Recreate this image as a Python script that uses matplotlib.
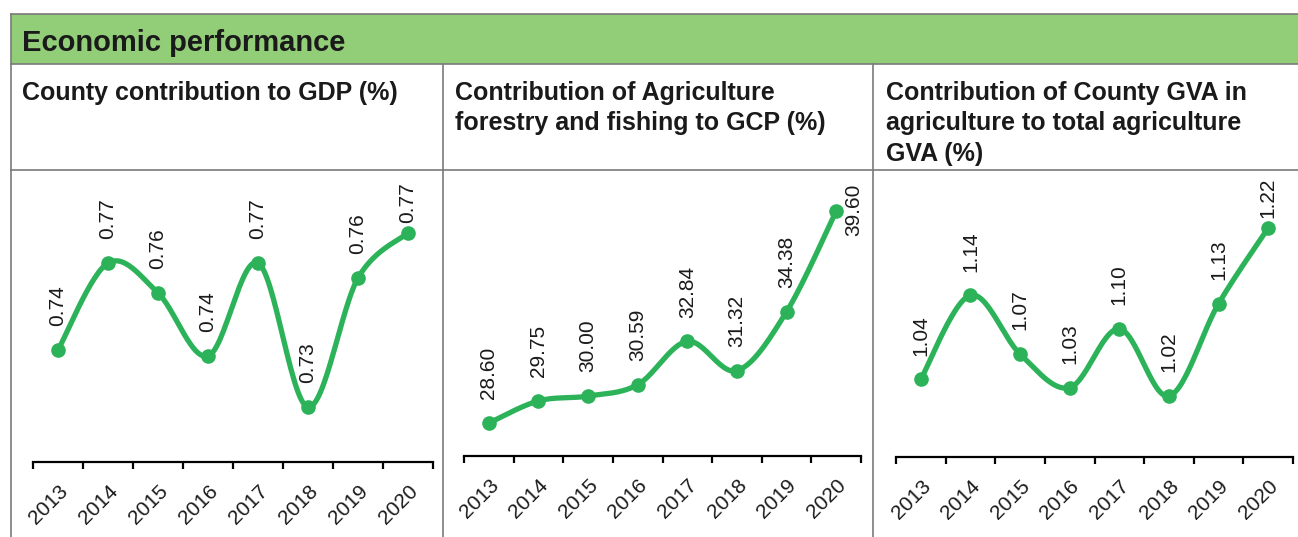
import numpy as np
import matplotlib
matplotlib.use('Agg')
import matplotlib.pyplot as plt
import matplotlib.transforms as mtransforms
from matplotlib.lines import Line2D
from matplotlib.patches import Rectangle

plt.rcParams['font.family'] = ['Liberation Sans', 'DejaVu Sans']

# Datos
years = ['2013', '2014', '2015', '2016', '2017', '2018', '2019', '2020']

# county contribution to GDP (%) - plotted heights, labels as printed
gdp_share = [0.739, 0.768, 0.758, 0.737, 0.768, 0.720, 0.763, 0.778]
gdp_labels = ['0.74', '0.77', '0.76', '0.74', '0.77', '0.73', '0.76', '0.77']

# agriculture, forestry and fishing to GCP (%)
agri_gcp = [28.60, 29.75, 30.00, 30.59, 32.84, 31.32, 34.38, 39.60]
agri_labels = ['28.60', '29.75', '30.00', '30.59', '32.84', '31.32', '34.38', '39.60']

# county GVA in agriculture to total agriculture GVA (%)
gva_share = [1.04, 1.14, 1.07, 1.03, 1.10, 1.02, 1.13, 1.22]
gva_labels = ['1.04', '1.14', '1.07', '1.03', '1.10', '1.02', '1.13', '1.22']

titles = ['County contribution to GDP (%)',
          'Contribution of Agriculture\nforestry and fishing to GCP (%)',
          'Contribution of County GVA in\nagriculture to total agriculture\nGVA (%)']
header = 'Economic performance'

W, H = 1298, 537
GREEN = '#2cb35a'
HEAD = '#92cd78'
BORDER = '#7a7a7a'
TXT = '#1a1a1a'


def fx(x):
    return x / W


def fy(y):
    return 1 - y / H


def smooth(xs, ys, n=30):
    # bezier smoothing like the spreadsheet "smoothed line"
    p = np.column_stack([xs, ys]).astype(float)
    pts = [p[0]]
    for i in range(len(p) - 1):
        p0 = p[i - 1] if i > 0 else p[i]
        p3 = p[i + 2] if i + 2 < len(p) else p[i + 1]
        c1 = p[i] + (p[i + 1] - p0) / 6
        c2 = p[i + 1] - (p3 - p[i]) / 6
        t = np.linspace(0, 1, n)[1:, None]
        seg = ((1 - t) ** 3) * p[i] + 3 * ((1 - t) ** 2) * t * c1 + 3 * (1 - t) * t ** 2 * c2 + t ** 3 * p[i + 1]
        pts.extend(seg)
    pts = np.array(pts)
    return pts[:, 0], pts[:, 1]


fig = plt.figure(figsize=(W / 100, H / 100), dpi=100)

# cabecera verde y rejilla de la tabla
fig.add_artist(Rectangle((fx(11), fy(64)), fx(W) - fx(11), fy(14) - fy(64),
                         transform=fig.transFigure, facecolor=HEAD, edgecolor='none'))
for y in [14, 64, 170]:
    fig.add_artist(Line2D([fx(11), 1], [fy(y), fy(y)], transform=fig.transFigure,
                          color=BORDER, lw=1.2))
fig.add_artist(Line2D([fx(11), fx(11)], [fy(14), 0], transform=fig.transFigure, color=BORDER, lw=1.2))
for x in [443, 873]:
    fig.add_artist(Line2D([fx(x), fx(x)], [fy(64), 0], transform=fig.transFigure, color=BORDER, lw=1.2))

fig.text(fx(22), fy(43), header, fontsize=21, fontweight='bold', color=TXT, va='center', ha='left')
for tx, t in zip([22, 455, 886], titles):
    fig.text(fx(tx), fy(81), t, fontsize=18, fontweight='bold', color=TXT, va='top', ha='left',
             linespacing=1.33)

# [left, right, top, bottom] in pixels, ylim
panels = [
    (33, 433, 172, 462, (0.7017, 0.7983), gdp_share, gdp_labels),
    (464, 861, 172, 456, (26.89, 41.63), agri_gcp, agri_labels),
    (896, 1293, 172, 457, (0.9474, 1.2867), gva_share, gva_labels),
]

shift = mtransforms.ScaledTranslation(-4 / 100, 2 / 100, fig.dpi_scale_trans)

for k, (l, r, t, b, ylim, vals, labs) in enumerate(panels):
    ax = fig.add_axes([fx(l), fy(b), fx(r) - fx(l), fy(t) - fy(b)])
    ax.patch.set_alpha(0)
    x = np.arange(len(years))
    sx, sy = smooth(x, vals)
    ax.plot(sx, sy, color=GREEN, lw=3.8, solid_capstyle='round', clip_on=False)
    ax.plot(x, vals, 'o', color=GREEN, markersize=9.5, clip_on=False)
    last = len(vals) - 1
    for i, (v, s) in enumerate(zip(vals, labs)):
        if k == 1 and i == last:
            ax.annotate(s, (i, v), xytext=(6, 1), textcoords='offset points', rotation=90,
                        ha='left', va='center', fontsize=15, color=TXT)
        else:
            dy = 7 if i == last else 17
            ax.annotate(s, (i, v), xytext=(0, dy), textcoords='offset points', rotation=90,
                        ha='center', va='bottom', fontsize=15, color=TXT)
    ax.set_xlim(-0.5, len(years) - 0.5)
    ax.set_ylim(*ylim)
    ax.set_yticks([])
    for sp in ['left', 'top', 'right']:
        ax.spines[sp].set_visible(False)
    ax.spines['bottom'].set_linewidth(1.6)
    ax.spines['bottom'].set_color('black')
    ax.set_xticks(x)
    ax.set_xticklabels(years, rotation=45, ha='right', rotation_mode='anchor', fontsize=15, color=TXT)
    for lab in ax.get_xticklabels():
        lab.set_transform(lab.get_transform() + shift)
    ax.tick_params(axis='x', which='major', length=0, pad=14)
    ax.set_xticks(np.arange(len(years) + 1) - 0.5, minor=True)
    ax.tick_params(axis='x', which='minor', length=5, width=1.6, direction='out', color='black')

fig.savefig('out.png', dpi=100)
